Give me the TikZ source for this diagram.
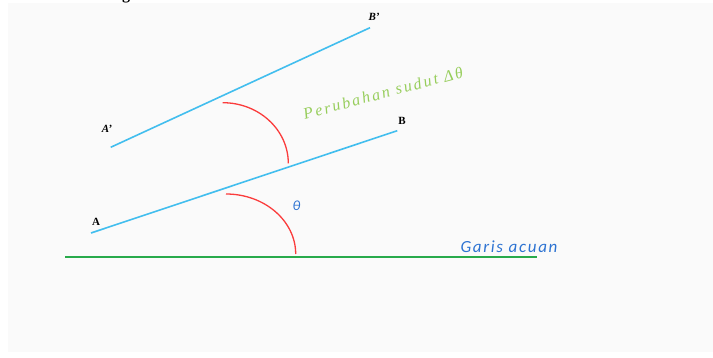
\documentclass[tikz,border=0pt]{standalone}
\usepackage{fontspec}
\setmainfont{Liberation Serif}
\newfontfamily\calibspaced[LetterSpace=10]{Carlito}
\newfontfamily\calib{Carlito}
\newfontfamily\spacedserif[LetterSpace=14]{Liberation Serif}
\definecolor{lineblue}{RGB}{66,190,238}
\definecolor{arcred}{RGB}{250,60,60}
\definecolor{refgreen}{RGB}{40,170,75}
\definecolor{lightgreen}{RGB}{150,205,90}
\definecolor{textblue}{RGB}{45,115,210}
\definecolor{bgray}{RGB}{250,250,250}
\tikzset{
  seg/.style={draw=lineblue, line width=1.6pt},
  anglearc/.style={draw=arcred, line width=1.3pt},
  refline/.style={draw=refgreen, line width=1.4pt},
  ptlabel/.style={font=\bfseries\fontsize{11}{11}\selectfont, inner sep=0pt},
  ptlabelp/.style={font=\bfseries\itshape\fontsize{11}{11}\selectfont, inner sep=0pt},
}
\begin{document}
\begin{tikzpicture}[x=1pt,y=-1pt]
\useasboundingbox (0,0) rectangle (713,358);
\fill[white] (0,0) rectangle (713,358);
\fill[bgray] (8,3) rectangle (713,352);
\begin{scope}
\clip (0,0) rectangle (713,358);
\node[font=\bfseries\fontsize{16}{16}\selectfont, anchor=base, inner sep=0pt] (gfrag) at (126,-0.5) {g};
\end{scope}
% reference line
\coordinate (g1) at (65,257);
\coordinate (g2) at (537,257);
\draw[refline] (g1) -- (g2);
% segment AB
\coordinate (a) at (91,233);
\coordinate (b) at (397.3,130.7);
\draw[seg] (a) -- (b);
% segment A'B'
\coordinate (ap) at (110.7,147.3);
\coordinate (bp) at (370,27.7);
\draw[seg] (ap) -- (bp);
% arcs
\coordinate (arc1s) at (222.7,102.7);
\coordinate (arc2s) at (226,194);
\draw[anglearc] (arc1s) arc[start angle=-90, end angle=0, x radius=65.6, y radius=60.6];
\draw[anglearc] (arc2s) arc[start angle=-90, end angle=0, x radius=69.7, y radius=60];
% labels
\node[ptlabel] (la) at (96,222) {A};
\node[ptlabel] (lb) at (402,121) {B};
\node[ptlabelp] (lap) at (107,129) {A'};
\node[ptlabelp] (lbp) at (374,17) {B'};
\node[font=\calib\itshape\fontsize{14}{14}\selectfont, text=textblue, inner sep=0pt] (theta) at (296.5,206) {θ};
\node[font=\calibspaced\itshape\fontsize{17}{17}\selectfont, text=textblue, inner sep=0pt] (garis) at (509,247) {Garis acuan};
\node[font=\spacedserif\itshape\fontsize{16}{16}\selectfont, text=lightgreen, inner sep=0pt, rotate=15] (perub) at (383,93) {Perubahan sudut Δθ};
\end{tikzpicture}
\end{document}
